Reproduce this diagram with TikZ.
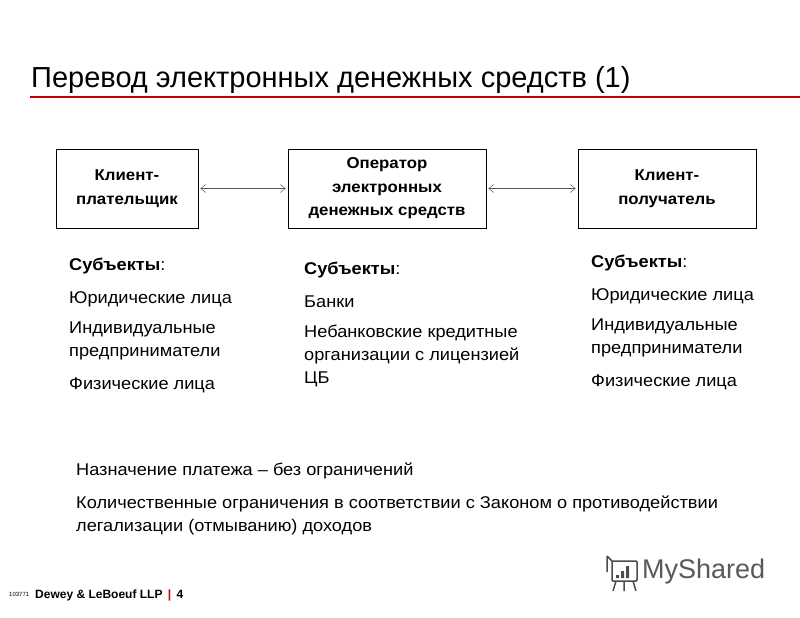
\documentclass[tikz,border=0pt]{standalone}
\usepackage{fontspec}
\setmainfont{Liberation Sans}[FakeStretch=1.07]
\newfontfamily\plainfont{Liberation Sans}
\usetikzlibrary{arrows.meta}
\begin{document}
\begin{tikzpicture}[x=1pt,y=-1pt,
  box/.style={draw,line width=0.6pt,align=center,font=\fontsize{15.7}{23.5}\selectfont\bfseries,inner sep=0},
  body/.style={anchor=north west,align=left,font=\fontsize{17}{23}\selectfont,inner sep=0},
  conn/.style={{Straight Barb[length=5pt,width=8pt]}-{Straight Barb[length=5pt,width=8pt]},line width=0.5pt,gray!70!black}]
\useasboundingbox (0,0) rectangle (800,618);
\node[anchor=base west,font=\plainfont\fontsize{29}{32}\selectfont,inner sep=0] (title) at (31,88) {Перевод электронных денежных средств (1)};
\draw[red!75!black,line width=1.5pt] (30,97) coordinate (l1) -- (800,97) coordinate (l2);
\node[box,minimum width=142,minimum height=79] (a) at (127,188.5) {Клиент-\\плательщик};
\node[box,minimum width=198,minimum height=79] (b) at (387,188.5) {Оператор\\электронных\\денежных средств};
\node[box,minimum width=178,minimum height=79] (c) at (667,188.5) {Клиент-\\получатель};
\draw[conn] ([xshift=2pt]a.east) -- ([xshift=-2pt]b.west);
\draw[conn] ([xshift=2pt]b.east) -- ([xshift=-2pt]c.west);
\node[body] (s1) at (69,258) {\textbf{Субъекты}:\\[10pt]Юридические лица\\[7pt]Индивидуальные\\предприниматели\\[10pt]Физические лица};
\node[body] (s2) at (304,262) {\textbf{Субъекты}:\\[10pt]Банки\\[7pt]Небанковские кредитные\\организации с лицензией\\ЦБ};
\node[body] (s3) at (591,255) {\textbf{Субъекты}:\\[10pt]Юридические лица\\[7pt]Индивидуальные\\предприниматели\\[10pt]Физические лица};
\node[body] (n) at (76,463) {Назначение платежа – без ограничений\\[10pt]Количественные ограничения в соответствии с Законом о противодействии\\легализации (отмыванию) доходов};
\node[anchor=base west,font=\plainfont\fontsize{6}{7}\selectfont,inner sep=0] (code) at (9,596) {103771};
\node[anchor=base west,font=\plainfont\fontsize{12}{14}\selectfont\bfseries,inner sep=0] (f) at (35,598) {Dewey \& LeBoeuf LLP \textcolor{red!75!black}{\,|\,} 4};
% logo
\draw[gray!60!black,line width=1.5pt,rounded corners=1pt] (612,561) rectangle (637,581);
\draw[gray!60!black,line width=1.5pt] (607,556) -- (607,572) (607,556) -- (612,561) (616,581) -- (613,591) (624,581) -- (624,591) (633,581) -- (636,591);
\fill[gray!60!black] (616,575) rectangle (619,578) (621,571) rectangle (624,578) (626,566) rectangle (629,578);
\node[anchor=west,font=\plainfont\fontsize{27}{29}\selectfont,text=gray!70!black,inner sep=0] (logo) at (642,572) {MyShared};
\end{tikzpicture}
\end{document}
